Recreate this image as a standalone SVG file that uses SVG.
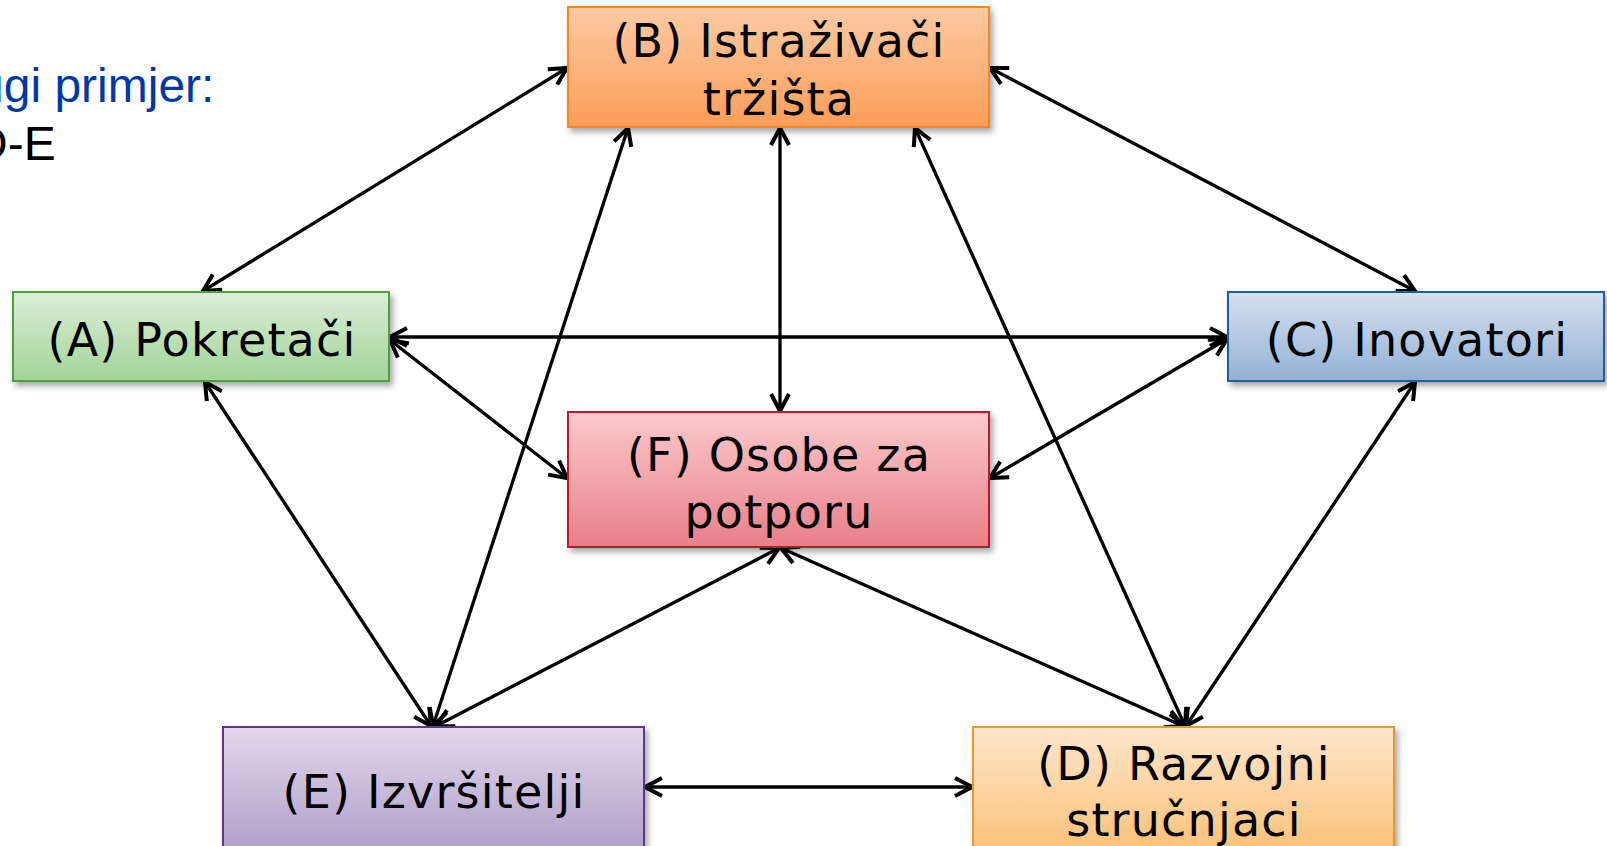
<svg xmlns="http://www.w3.org/2000/svg" width="1607" height="846" viewBox="0 0 1607 846">
<style>
.lbl{font-family:"DejaVu Sans","Verdana",sans-serif;font-size:46px;letter-spacing:1.2px;fill:#000;text-anchor:middle}
.hd{font-family:"Liberation Sans",Arial,sans-serif;font-size:48px}
.box{stroke-width:2}
.con{stroke:#000;stroke-width:3.3;fill:none;marker-start:url(#ah);marker-end:url(#ah)}
</style>
<defs>
<marker id="ah" viewBox="-22 -12 26 24" refX="0" refY="0" markerWidth="26" markerHeight="24" markerUnits="userSpaceOnUse" orient="auto-start-reverse">
<path d="M-17,-9 L0,0 L-17,9" fill="none" stroke="#000" stroke-width="4"/>
</marker>
<filter id="sh" x="-10%" y="-10%" width="125%" height="130%">
<feDropShadow dx="3" dy="4" stdDeviation="3" flood-color="#000" flood-opacity="0.35"/>
</filter>
<linearGradient id="gB" x1="0" y1="0" x2="0" y2="1"><stop offset="0" stop-color="#fdcaa3"/><stop offset="1" stop-color="#fb9d58"/></linearGradient>
<linearGradient id="gA" x1="0" y1="0" x2="0" y2="1"><stop offset="0" stop-color="#daefd6"/><stop offset="1" stop-color="#a3d398"/></linearGradient>
<linearGradient id="gC" x1="0" y1="0" x2="0" y2="1"><stop offset="0" stop-color="#d5e0f0"/><stop offset="1" stop-color="#93b1d5"/></linearGradient>
<linearGradient id="gF" x1="0" y1="0" x2="0" y2="1"><stop offset="0" stop-color="#fbcacd"/><stop offset="1" stop-color="#e87f88"/></linearGradient>
<linearGradient id="gE" x1="0" y1="0" x2="0" y2="1"><stop offset="0" stop-color="#e1d8eb"/><stop offset="1" stop-color="#a997c4"/></linearGradient>
<linearGradient id="gD" x1="0" y1="0" x2="0" y2="1"><stop offset="0" stop-color="#fee6cb"/><stop offset="0.85" stop-color="#fbc37c"/></linearGradient>
</defs>
<rect width="1607" height="846" fill="#fff"/>
<g id="heading">
<text class="hd" x="-23" y="102" fill="#0039a6">ugi primjer:</text>
<text class="hd" x="-27" y="160" fill="#000">D-E</text>
</g>
<g id="connectors">
<line class="con" x1="203" y1="291" x2="567" y2="68"/>
<line class="con" x1="990" y1="68" x2="1415" y2="291"/>
<line class="con" x1="390" y1="337" x2="1227" y2="337"/>
<line class="con" x1="390" y1="340" x2="567" y2="478"/>
<line class="con" x1="1227" y1="339" x2="990" y2="478"/>
<line class="con" x1="780" y1="128" x2="780" y2="411"/>
<line class="con" x1="628" y1="128" x2="433" y2="726"/>
<line class="con" x1="915" y1="128" x2="1185" y2="726"/>
<line class="con" x1="205" y1="382" x2="431" y2="726"/>
<line class="con" x1="1415" y1="382" x2="1186" y2="726"/>
<line class="con" x1="779" y1="548" x2="436" y2="726"/>
<line class="con" x1="781" y1="548" x2="1183" y2="726"/>
<line class="con" x1="645" y1="787" x2="972" y2="787"/>
</g>
<g id="nodeB">
<rect class="box" x="568" y="7" width="421" height="120" fill="url(#gB)" stroke="#f7861e" filter="url(#sh)"/>
<text class="lbl" x="779" y="57">(B) Istraživači</text>
<text class="lbl" x="779" y="115">tržišta</text>
</g>
<g id="nodeA">
<rect class="box" x="13" y="292" width="376" height="89" fill="url(#gA)" stroke="#4ea03c" filter="url(#sh)"/>
<text class="lbl" x="202" y="356">(A) Pokretači</text>
</g>
<g id="nodeC">
<rect class="box" x="1228" y="292" width="376" height="89" fill="url(#gC)" stroke="#1f5f99" filter="url(#sh)"/>
<text class="lbl" x="1417" y="356">(C) Inovatori</text>
</g>
<g id="nodeF">
<rect class="box" x="568" y="412" width="421" height="135" fill="url(#gF)" stroke="#c0142a" filter="url(#sh)"/>
<text class="lbl" x="779" y="471">(F) Osobe za</text>
<text class="lbl" x="779" y="528">potporu</text>
</g>
<g id="nodeE">
<rect class="box" x="223" y="727" width="421" height="140" fill="url(#gE)" stroke="#5e3592" filter="url(#sh)"/>
<text class="lbl" x="434" y="808">(E) Izvršitelji</text>
</g>
<g id="nodeD">
<rect class="box" x="973" y="727" width="421" height="140" fill="url(#gD)" stroke="#e39a32" filter="url(#sh)"/>
<text class="lbl" x="1184" y="780">(D) Razvojni</text>
<text class="lbl" x="1184" y="836">stručnjaci</text>
</g>
</svg>
